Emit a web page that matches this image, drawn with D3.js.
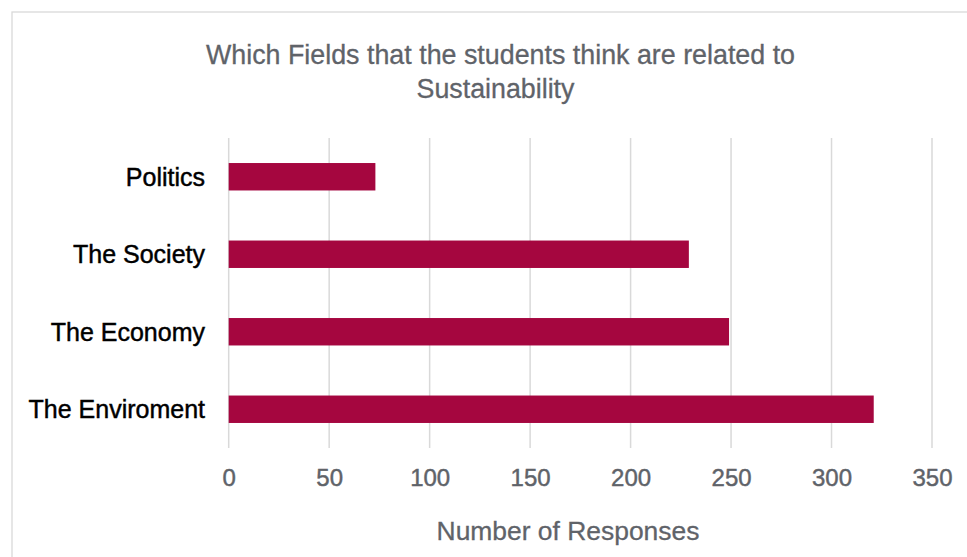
<!DOCTYPE html>
<html>
<head>
<meta charset="utf-8">
<script src="https://cdn.jsdelivr.net/npm/d3@7"></script>
<style>
  html, body { margin: 0; padding: 0; background: #fff; }
  svg { display: block; }
  text { font-family: "Liberation Sans", Arial, sans-serif; }
</style>
</head>
<body>
<svg id="chart" width="967" height="557"></svg>
<script>
const categories = ["Politics", "The Society", "The Economy", "The Enviroment"];
const responses = [73, 229, 249, 321];
const xTicks = [0, 50, 100, 150, 200, 250, 300, 350];
const titleLines = ["Which Fields that the students think are related to", "Sustainability"];
const xAxisTitle = "Number of Responses";

const svg = d3.select("#chart");
const grey = "#5f6369";

// fit a text element's font size so its width matches a target width
function fitWidth(sel, target) {
  sel.each(function () {
    const fs = parseFloat(this.getAttribute("font-size"));
    const w = this.getComputedTextLength();
    if (w > 0) this.setAttribute("font-size", (fs * target / w).toFixed(2));
  });
}

// chart frame (extends beyond the viewport like the reference)
svg.append("rect")
  .attr("x", 12).attr("y", 12)
  .attr("width", 1000).attr("height", 600)
  .attr("fill", "#fff").attr("stroke", "#d9d9d9").attr("stroke-width", 1.3);

const plot = { left: 228.7, right: 932, top: 138, bottom: 448 };

const x = d3.scaleLinear().domain([0, 350]).range([plot.left, plot.right]);
const y = d3.scaleBand().domain(categories)
  .range([plot.top, plot.bottom])
  .paddingInner(0.646).paddingOuter(0.323);

// gridlines
svg.append("g").selectAll("line").data(xTicks).join("line")
  .attr("x1", d => x(d)).attr("x2", d => x(d))
  .attr("y1", plot.top).attr("y2", plot.bottom)
  .attr("stroke", "#d9d9d9").attr("stroke-width", 1.5);

// bars
svg.append("g").selectAll("rect").data(categories).join("rect")
  .attr("x", x(0))
  .attr("y", d => y(d))
  .attr("width", (d, i) => x(responses[i]) - x(0))
  .attr("height", y.bandwidth())
  .attr("fill", "#a5063f");

// x axis tick labels
const xAxis = d3.axisBottom(x).tickValues(xTicks).tickSize(0).tickPadding(0);
const gx = svg.append("g").attr("transform", `translate(0,${plot.bottom})`).call(xAxis);
gx.select(".domain").remove();
gx.selectAll("text")
  .attr("y", 38).attr("dy", null)
  .attr("font-size", 24).attr("fill", grey)
  .attr("stroke", grey).attr("stroke-width", 0.45)
  .attr("font-family", "Liberation Sans, Arial, sans-serif");

// y axis labels
const yAxis = d3.axisLeft(y).tickSize(0).tickPadding(0);
const gy = svg.append("g").attr("transform", `translate(205,0)`).call(yAxis);
gy.select(".domain").remove();
gy.selectAll("text")
  .attr("x", 0).attr("dy", "0.36em")
  .attr("font-size", 25).attr("fill", "#000")
  .attr("stroke", "#000").attr("stroke-width", 0.45)
  .attr("font-family", "Liberation Sans, Arial, sans-serif");

// title
const titleCenters = [500.5, 495.5];
const titleWidths = [589, 158];
const tt = svg.append("g").selectAll("text").data(titleLines).join("text")
  .attr("x", (d, i) => titleCenters[i])
  .attr("y", (d, i) => 64 + i * 34)
  .attr("text-anchor", "middle")
  .attr("font-family", "Inter, 'Liberation Sans', sans-serif")
  .attr("font-size", 24)
  .attr("fill", grey)
  .attr("stroke", grey).attr("stroke-width", 0.3)
  .text(d => d);
tt.each(function (d, i) { fitWidth(d3.select(this), titleWidths[i]); });

// x axis title
const at = svg.append("text")
  .attr("x", 568).attr("y", 540)
  .attr("text-anchor", "middle")
  .attr("font-family", "Inter, 'Liberation Sans', sans-serif")
  .attr("font-size", 24)
  .attr("fill", grey)
  .attr("stroke", grey).attr("stroke-width", 0.3)
  .text(xAxisTitle);
fitWidth(at, 263);
</script>
</body>
</html>
